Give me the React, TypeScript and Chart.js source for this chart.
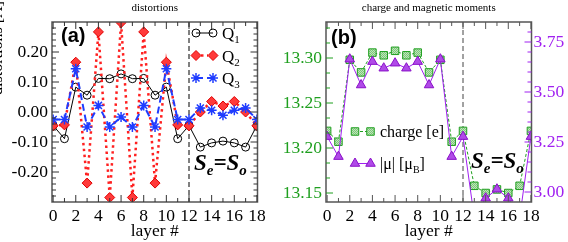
import React, { useEffect, useRef } from 'react';
import { Chart, registerables } from 'chart.js';

Chart.register(...registerables);

// ---------- data ----------
const layers = [0, 1, 2, 3, 4, 5, 6, 7, 8, 9, 10, 11, 12, 13, 14, 15, 16, 17, 18];
const q1 = [-0.045, -0.089, 0.083, 0.056, 0.112, 0.111, 0.127, 0.111, 0.112, 0.056, 0.083, -0.089, -0.045, -0.117, -0.103, -0.097, -0.103, -0.117, -0.045];
const q2 = [-0.046, -0.043, 0.166, -0.237, 0.267, -0.285, 0.298, -0.285, 0.267, -0.237, 0.166, -0.043, -0.046, 0.0, 0.035, 0.02, 0.035, 0.0, -0.046];
const q3 = [-0.025, -0.025, 0.144, -0.05, 0.022, -0.05, -0.017, -0.05, 0.022, -0.05, 0.144, -0.025, -0.025, 0.013, 0.006, -0.011, 0.006, 0.013, -0.025];
const charge = [13.219, 13.207, 13.298, 13.284, 13.306, 13.303, 13.308, 13.303, 13.306, 13.284, 13.298, 13.207, 13.219, 13.158, 13.15, 13.154, 13.15, 13.158, 13.219];
const moment = [3.277, 3.177, 3.664, 3.535, 3.652, 3.619, 3.644, 3.619, 3.652, 3.535, 3.664, 3.177, 3.277, 2.87, 2.969, 3.014, 2.969, 2.87, 3.277];

const xTickValues = [0, 2, 4, 6, 8, 10, 12, 14, 16, 18];
const distortionTicks = [-0.2, -0.1, 0, 0.1, 0.2];
const chargeTicks = [13.15, 13.2, 13.25, 13.3];
const momentTicks = [3.0, 3.25, 3.5, 3.75];
const boundaryLayer = 12;

// ---------- styles ----------
const SERIF = '"Liberation Serif", "Times New Roman", serif';
const SANS = '"Liberation Sans", Arial, sans-serif';
const GREEN = '#1f9f1f';
const PURPLE = '#a020f0';
const RED = '#ff2020';
const BLUE = '#1f3cff';
const FRAME = '#555555';

function range(a: number, b: number, s: number): number[] {
  const out: number[] = [];
  const n = Math.round((b - a) / s);
  for (let i = 0; i <= n; i++) out.push(+(a + i * s).toFixed(6));
  return out;
}
function without(all: number[], majors: number[]) {
  return all.filter((v) => !majors.some((m) => Math.abs(m - v) < 1e-6));
}
const pts = (ys: number[]) => layers.map((x, i) => ({ x, y: ys[i] }));

type Side = 'left' | 'right' | 'top' | 'bottom';
function drawTicks(chart: any, scaleId: string, sides: Side[], majors: number[], minors: number[], color: string) {
  const { ctx, chartArea: a } = chart;
  const sc = chart.scales[scaleId];
  ctx.save();
  ctx.strokeStyle = color;
  ctx.lineWidth = 1;
  ctx.beginPath();
  const put = (v: number, len: number) => {
    const p = sc.getPixelForValue(v);
    for (const s of sides) {
      if (s === 'left') { ctx.moveTo(a.left, p); ctx.lineTo(a.left + len, p); }
      if (s === 'right') { ctx.moveTo(a.right, p); ctx.lineTo(a.right - len, p); }
      if (s === 'top') { ctx.moveTo(p, a.top); ctx.lineTo(p, a.top + len); }
      if (s === 'bottom') { ctx.moveTo(p, a.bottom); ctx.lineTo(p, a.bottom - len); }
    }
  };
  majors.forEach((v) => put(v, 7));
  minors.forEach((v) => put(v, 4));
  ctx.stroke();
  ctx.restore();
}
function drawFrame(chart: any) {
  const { ctx, chartArea: a } = chart;
  ctx.save();
  ctx.strokeStyle = FRAME;
  ctx.lineWidth = 1.5;
  ctx.strokeRect(a.left, a.top, a.right - a.left, a.bottom - a.top);
  ctx.restore();
}
function drawBoundary(chart: any, color: string) {
  const { ctx, chartArea: a } = chart;
  const x = chart.scales.x.getPixelForValue(boundaryLayer);
  ctx.save();
  ctx.strokeStyle = color;
  ctx.lineWidth = 1;
  ctx.setLineDash([5, 3]);
  ctx.beginPath();
  ctx.moveTo(x, a.top);
  ctx.lineTo(x, a.bottom);
  ctx.stroke();
  ctx.restore();
}
function marker(ctx: CanvasRenderingContext2D, style: string, x: number, y: number, r: number, fill: any, stroke: string, lw: number) {
  ctx.save();
  ctx.beginPath();
  if (style === 'circle') ctx.arc(x, y, r, 0, Math.PI * 2);
  else if (style === 'diamond') { ctx.moveTo(x - r, y); ctx.lineTo(x, y - r); ctx.lineTo(x + r, y); ctx.lineTo(x, y + r); ctx.closePath(); }
  else if (style === 'rect') { const s = r * Math.SQRT1_2; ctx.rect(x - s, y - s, 2 * s, 2 * s); }
  else if (style === 'triangle') {
    for (let k = 0; k < 3; k++) {
      const ang = (k * 2 * Math.PI) / 3;
      const px = x + Math.sin(ang) * r, py = y - Math.cos(ang) * r;
      if (k === 0) ctx.moveTo(px, py); else ctx.lineTo(px, py);
    }
    ctx.closePath();
  } else if (style === 'star') {
    for (let k = 0; k < 4; k++) {
      const ang = (k * Math.PI) / 4;
      ctx.moveTo(x - Math.cos(ang) * r, y - Math.sin(ang) * r);
      ctx.lineTo(x + Math.cos(ang) * r, y + Math.sin(ang) * r);
    }
  }
  if (fill && style !== 'star') { ctx.fillStyle = fill; ctx.fill(); }
  ctx.strokeStyle = stroke;
  ctx.lineWidth = lw;
  ctx.stroke();
  ctx.restore();
}
function segLine(ctx: CanvasRenderingContext2D, x1: number, x2: number, y: number, color: string, w: number, dash: number[]) {
  ctx.save();
  ctx.strokeStyle = color;
  ctx.lineWidth = w;
  ctx.setLineDash(dash);
  ctx.beginPath();
  ctx.moveTo(x1, y);
  ctx.lineTo(x2, y);
  ctx.stroke();
  ctx.restore();
}
function richText(ctx: CanvasRenderingContext2D, x: number, y: number, parts: [string, string, number][], color: string) {
  ctx.save();
  ctx.fillStyle = color;
  ctx.textAlign = 'left';
  ctx.textBaseline = 'alphabetic';
  let cx = x;
  for (const [t, f, dy] of parts) {
    ctx.font = f;
    ctx.fillText(t, cx, y + dy);
    cx += ctx.measureText(t).width;
  }
  ctx.restore();
}
function drawSeSo(ctx: CanvasRenderingContext2D, x: number, y: number) {
  const big = `bold italic 23px ${SERIF}`;
  const small = `bold italic 15px ${SERIF}`;
  richText(ctx, x, y, [['S', big, 0], ['e', small, 5], ['=', big, 0], ['S', big, 0], ['o', small, 5]], '#000');
}

function makePattern(): any {
  const c = document.createElement('canvas');
  c.width = 2; c.height = 2;
  const g = c.getContext('2d')!;
  g.fillStyle = '#bfe6b8'; g.fillRect(0, 0, 2, 2);
  g.fillStyle = '#7cc67c'; g.fillRect(0, 0, 1, 1); g.fillRect(1, 1, 1, 1);
  const p = g.createPattern(c, 'repeat');
  return p || '#a8dca8';
}

const tickFont = { family: SERIF, size: 17.5 };

function xScale() {
  return {
    type: 'linear',
    min: -0.1,
    max: 18.05,
    grid: { display: false, drawTicks: false },
    border: { display: false },
    afterBuildTicks: (s: any) => { s.ticks = xTickValues.map((v) => ({ value: v })); },
    afterFit: (s: any) => { s.height = 40; },
    ticks: { autoSkip: false, maxRotation: 0, padding: 4, font: tickFont, color: '#000', callback: (v: any) => String(v) },
    title: { display: true, text: 'layer #', font: tickFont, color: '#000', padding: 0 },
  };
}

function configA(): any {
  const plugin = {
    id: 'panelA',
    beforeDatasetsDraw(chart: any) { drawBoundary(chart, '#000'); },
    afterDatasetsDraw(chart: any) {
      drawFrame(chart);
      drawTicks(chart, 'x', ['top', 'bottom'], range(0, 18, 2), range(1, 17, 2), '#333');
      drawTicks(chart, 'y', ['left', 'right'], distortionTicks, without(range(-0.28, 0.28, 0.02), distortionTicks), '#333');
    },
    afterDraw(chart: any) {
      const ctx = chart.ctx as CanvasRenderingContext2D;
      // panel tag
      ctx.save();
      ctx.font = `bold 20px ${SANS}`;
      ctx.fillStyle = '#000';
      ctx.fillText('(a)', 61, 42);
      ctx.restore();
      // y-axis title (mostly cut off at the left edge)
      ctx.save();
      ctx.translate(2, 48);
      ctx.rotate(-Math.PI / 2);
      ctx.font = `16px ${SERIF}`;
      ctx.fillStyle = '#000';
      ctx.textAlign = 'center';
      ctx.textBaseline = 'alphabetic';
      ctx.fillText('distortions [Å]', 0, 0);
      ctx.restore();
      // legend
      const qFont = `17px ${SERIF}`;
      const sFont = `11px ${SERIF}`;
      const rows: [number, string][] = [[33, '1'], [55.5, '2'], [78, '3']];
      const x1 = 196, x2 = 213;
      segLine(ctx, x1, x2, rows[0][0], '#000', 1, []);
      marker(ctx, 'circle', x1, rows[0][0], 4, null, '#000', 1);
      marker(ctx, 'circle', x2, rows[0][0], 4, null, '#000', 1);
      segLine(ctx, x1 + 5, x2 - 5, rows[1][0], RED, 2.5, [2.5, 3.5]);
      marker(ctx, 'diamond', x1, rows[1][0], 5, '#ff3a3a', '#e00000', 1);
      marker(ctx, 'diamond', x2, rows[1][0], 5, '#ff3a3a', '#e00000', 1);
      segLine(ctx, x1, x2, rows[2][0], BLUE, 2, [7, 4]);
      marker(ctx, 'star', x1, rows[2][0], 5, null, BLUE, 1.5);
      marker(ctx, 'star', x2, rows[2][0], 5, null, BLUE, 1.5);
      for (const [y, sub] of rows) {
        richText(ctx, 222, y + 6, [['Q', qFont, 0], [sub, sFont, 4]], '#000');
      }
      drawSeSo(ctx, 194, 170);
    },
  };
  return {
    type: 'line',
    data: {
      datasets: [
        {
          label: 'Q3', data: pts(q3), order: 0,
          borderColor: BLUE, borderWidth: 2, borderDash: [7, 4], fill: false, tension: 0,
          pointStyle: 'star', pointRadius: 5, pointBorderColor: BLUE, pointBackgroundColor: BLUE, pointBorderWidth: 1.5,
        },
        {
          label: 'Q2', data: pts(q2), order: 1,
          borderColor: RED, borderWidth: 2.5, borderDash: [2.5, 3.5], fill: false, tension: 0,
          pointStyle: 'rectRot', pointRadius: 5, pointBorderColor: '#e00000', pointBackgroundColor: '#ff3a3a', pointBorderWidth: 1,
        },
        {
          label: 'Q1', data: pts(q1), order: 2,
          borderColor: '#000', borderWidth: 1, fill: false, tension: 0,
          pointStyle: 'circle', pointRadius: 4, pointBorderColor: '#000', pointBackgroundColor: 'rgba(0,0,0,0)', pointBorderWidth: 1,
        },
      ],
    },
    options: {
      responsive: false,
      animation: false,
      devicePixelRatio: 1,
      events: [],
      layout: { padding: { left: 0, right: 18.5, top: 0, bottom: 0 } },
      plugins: {
        legend: { display: false },
        tooltip: { enabled: false },
        title: {
          display: true, text: 'distortions', fullSize: false, color: '#000',
          font: { family: SERIF, size: 11, weight: 'normal', lineHeight: 1.2 },
          padding: { top: 2, bottom: 6.8 },
        },
      },
      scales: {
        x: xScale(),
        y: {
          type: 'linear', min: -0.3, max: 0.3,
          grid: { display: false, drawTicks: false },
          border: { display: false },
          afterBuildTicks: (s: any) => { s.ticks = distortionTicks.map((v) => ({ value: v })); },
          afterFit: (s: any) => { s.width = 52; },
          ticks: { padding: 4, font: tickFont, color: '#000', callback: (v: any) => Number(v).toFixed(2) },
        },
      },
    },
    plugins: [plugin],
  };
}

function configB(): any {
  const off = 276; // canvas offset on the page
  const pattern = makePattern();
  const plugin = {
    id: 'panelB',
    beforeDatasetsDraw(chart: any) { drawBoundary(chart, '#444'); },
    afterDatasetsDraw(chart: any) {
      drawFrame(chart);
      drawTicks(chart, 'x', ['top', 'bottom'], range(0, 18, 2), range(1, 17, 2), FRAME);
      drawTicks(chart, 'y', ['left'], chargeTicks, without(range(13.15, 13.3333, 0.05 / 3), chargeTicks), GREEN);
      drawTicks(chart, 'y2', ['right'], momentTicks, without(range(3.0, 3.8, 0.05), momentTicks), PURPLE);
    },
    afterDraw(chart: any) {
      const ctx = chart.ctx as CanvasRenderingContext2D;
      ctx.save();
      ctx.font = `bold 20px ${SANS}`;
      ctx.fillStyle = '#000';
      ctx.fillText('(b)', 331 - off, 44);
      ctx.restore();
      const lf = `16px ${SERIF}`;
      const sf = `10px ${SERIF}`;
      const x1 = 355 - off, x2 = 370.5 - off;
      const yc = 131.5, ym = 163.5;
      segLine(ctx, x1, x2, yc, GREEN, 1, [3, 2]);
      marker(ctx, 'rect', x1, yc, 5.3, pattern, GREEN, 1);
      marker(ctx, 'rect', x2, yc, 5.3, pattern, GREEN, 1);
      richText(ctx, 380 - off, yc + 5.5, [['charge [e]', lf, 0]], '#000');
      segLine(ctx, x1, x2, ym, PURPLE, 1, []);
      marker(ctx, 'triangle', x1, ym, 5.5, '#b04ae8', '#8a10c8', 1);
      marker(ctx, 'triangle', x2, ym, 5.5, '#b04ae8', '#8a10c8', 1);
      richText(ctx, 380 - off, ym + 5.5, [['|μ| [μ', lf, 0], ['B', sf, 4], [']', lf, 0]], '#000');
      drawSeSo(ctx, 471 - off, 168);
    },
  };
  return {
    type: 'line',
    data: {
      datasets: [
        {
          label: '|μ| [μB]', data: pts(moment), yAxisID: 'y2', order: 0,
          borderColor: PURPLE, borderWidth: 1, fill: false, tension: 0,
          pointStyle: 'triangle', pointRadius: 5.5, pointBorderColor: '#8a10c8', pointBackgroundColor: '#b04ae8', pointBorderWidth: 1,
        },
        {
          label: 'charge [e]', data: pts(charge), yAxisID: 'y', order: 1,
          borderColor: GREEN, borderWidth: 1, borderDash: [3, 2], fill: false, tension: 0,
          pointStyle: 'rect', pointRadius: 5.3, pointBorderColor: GREEN, pointBackgroundColor: pattern, pointBorderWidth: 1,
        },
      ],
    },
    options: {
      responsive: false,
      animation: false,
      devicePixelRatio: 1,
      events: [],
      layout: { padding: { left: 0, right: 0, top: 0, bottom: 0 } },
      plugins: {
        legend: { display: false },
        tooltip: { enabled: false },
        title: {
          display: true, text: 'charge and magnetic moments', fullSize: false, color: '#000',
          font: { family: SERIF, size: 11, weight: 'normal', lineHeight: 1.2 },
          padding: { top: 2, bottom: 6.8 },
        },
      },
      scales: {
        x: xScale(),
        y: {
          type: 'linear', position: 'left', min: 13.14, max: 13.34,
          grid: { display: false, drawTicks: false },
          border: { display: false },
          afterBuildTicks: (s: any) => { s.ticks = chargeTicks.map((v) => ({ value: v })); },
          afterFit: (s: any) => { s.width = 50; },
          ticks: { padding: 4, font: tickFont, color: GREEN, callback: (v: any) => Number(v).toFixed(2) },
        },
        y2: {
          type: 'linear', position: 'right', min: 2.95, max: 3.85,
          grid: { display: false, drawTicks: false },
          border: { display: false },
          afterBuildTicks: (s: any) => { s.ticks = momentTicks.map((v) => ({ value: v })); },
          afterFit: (s: any) => { s.width = 36.5; },
          ticks: { padding: 2, font: tickFont, color: PURPLE, callback: (v: any) => Number(v).toFixed(2) },
        },
      },
    },
    plugins: [plugin],
  };
}

export default function App() {
  const refA = useRef<HTMLCanvasElement>(null);
  const refB = useRef<HTMLCanvasElement>(null);
  useEffect(() => {
    const a = new Chart(refA.current as HTMLCanvasElement, configA());
    const b = new Chart(refB.current as HTMLCanvasElement, configB());
    return () => { a.destroy(); b.destroy(); };
  }, []);
  return (
    <div style={{ position: 'fixed', left: 0, top: 0, width: 568, height: 242, background: '#fff', overflow: 'hidden' }}>
      <canvas ref={refA} width={276} height={242} style={{ position: 'absolute', left: 0, top: 0, width: 276, height: 242 }} />
      <canvas ref={refB} width={292} height={242} style={{ position: 'absolute', left: 276, top: 0, width: 292, height: 242 }} />
    </div>
  );
}
